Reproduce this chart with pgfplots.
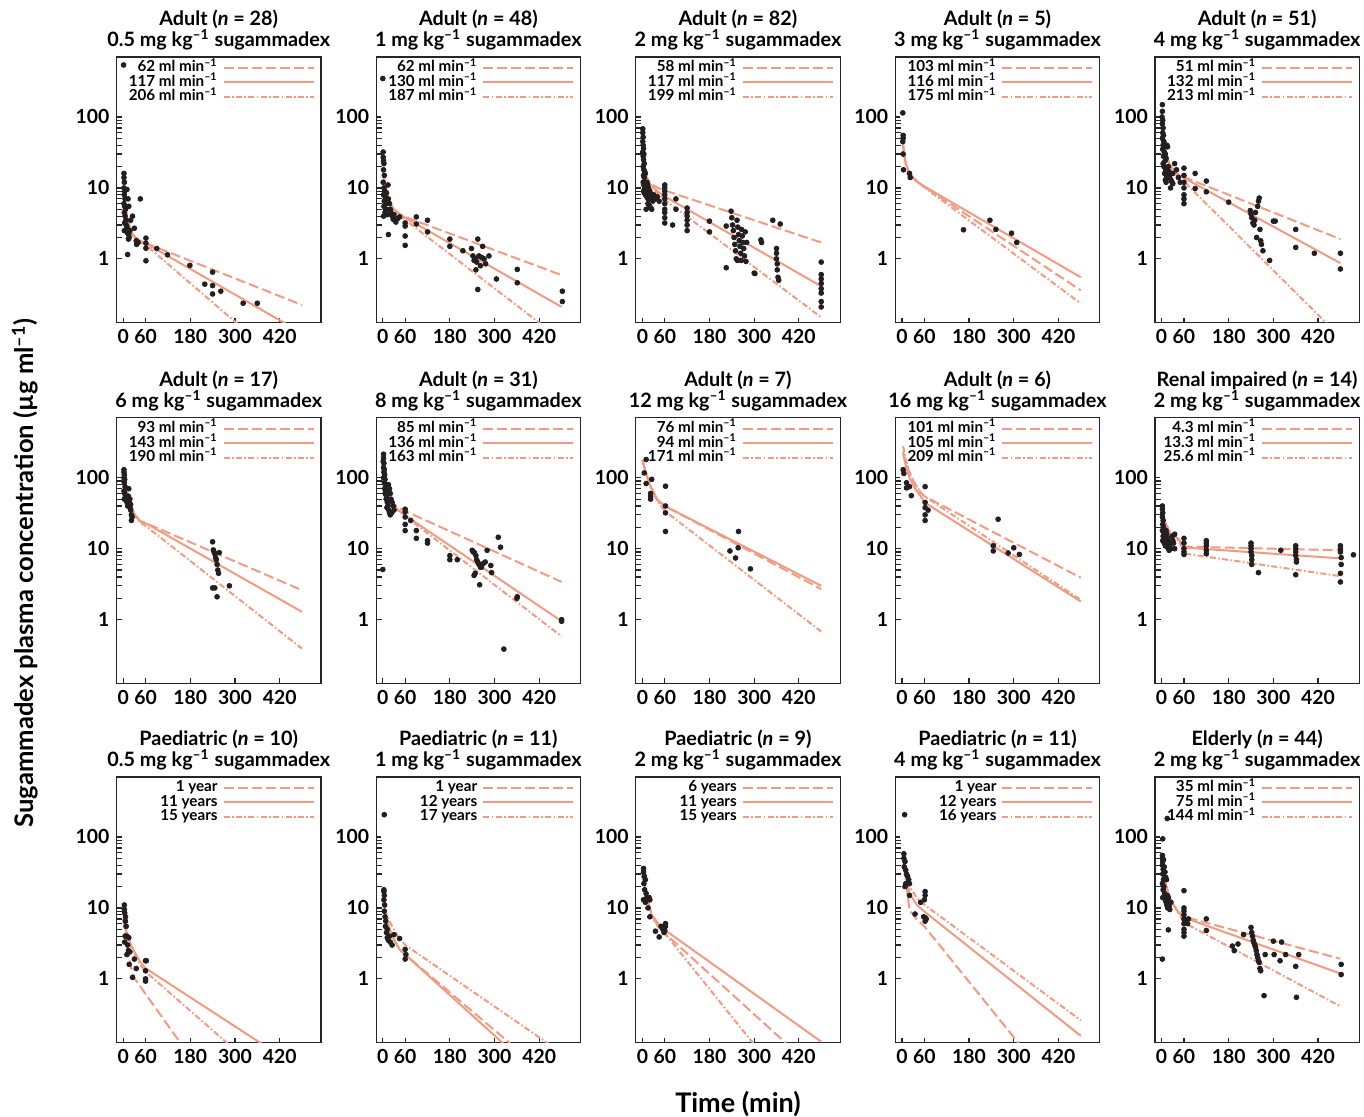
\documentclass[border=0pt]{standalone}
\usepackage{fontspec}
\setmainfont{Lato}
\usepackage{pgfplots}
\pgfplotsset{compat=1.18}
\definecolor{salmon}{RGB}{243,155,130}
\definecolor{dotc}{RGB}{35,31,32}
\newcommand{\mlm}[1]{#1 ml min\textsuperscript{–1}}
\newcommand{\dose}[1]{#1 mg kg\textsuperscript{–1} sugammadex}
\tikzset{
 dsh/.style={salmon, line width=1pt, dash pattern=on 5pt off 2pt},
 sol/.style={salmon, line width=1pt},
 ddt/.style={salmon, line width=1pt, dash pattern=on 3pt off 1.2pt on 0.8pt off 1.2pt},
 dotm/.style={dotc, mark=*, mark size=1.2pt},
}
\newcommand{\AX}[2]{\begin{axis}[/pgfplots/ymode=log,
  scale only axis, width=102.25pt, height=132.85pt,
  ymin=0.126, ymax=700, xmin=-18, xmax=531,
  xtick={0,60,180,300,420}, xticklabels={0,60,180,300,420},
  ytick={1,10,100}, yticklabels={1,10,100},
  minor y tick num=0, tick pos=left, tick align=inside, major tick length=2.5pt,
  tick style={black!85, line width=0.6pt},
  axis line style={line width=0.6pt, black!85},
  tick label style={font=\fontsize{9.7}{10}\selectfont\bfseries},
  legend plot pos=right,
  legend cell align=right,
  legend image code/.code={\draw[##1] (0pt,0pt) -- (45pt,0pt);},
  legend style={at={(1,1)}, anchor=north east, xshift=-3pt, yshift=-1.7pt,
    draw=none, fill=none, inner sep=0pt,
    font=\fontsize{7.6}{7.6}\selectfont\bfseries,
    nodes={inner sep=0pt, text height=5.5pt, text depth=1.5pt},
    row sep=0.25pt, column sep=2.5pt},
  at={(#1pt,#2pt)}, anchor=south west]}
\newcommand{\ttl}[4]{%
 \node[anchor=base,font=\fontsize{9.9}{10}\selectfont\bfseries] at (#1pt,#2pt+15.5pt) {#3};
 \node[anchor=base,font=\fontsize{9.9}{10}\selectfont\bfseries] at (#1pt,#2pt+5.2pt) {#4};}
\begin{document}
\begin{tikzpicture}
\path[use as bounding box] (0,0) rectangle (682pt,558.5pt);
% ---------------- Row 1 ----------------
\AX{58.25}{397.15}
\addplot[only marks, dotm, forget plot] coordinates {(1,540)(2,16)(2,14)(3,12)(2,10)(4,9)(3,8)(5,7)(2,6)(4,5.5)(6,5)(3,4.5)(5,4)(7,3.5)(4,3.2)(8,3)(3,2.5)(10,2.8)(12,2.3)(15,2.2)(14,1.9)(18,2.5)(16,2)(10,9.5)(13,7)(15,5.5)(20,3.5)(25,4)(30,2.7)(35,1.8)(40,1.7)(36,1.6)(12,1.15)(46,7)(61,1.96)(61,1.66)(61,1.41)(61,0.94)(90,1.4)(119,1.14)(179,0.81)(219,0.44)(240,0.65)(240,0.42)(240,0.32)(262,0.35)(322,0.237)(360,0.237)};
\addplot[dsh] coordinates {(0,8)(5,5.4)(10,4)(20,2.5)(30,2.05)(45,1.8)(60,1.67)(480,0.224)};
\addlegendentry{\mlm{62}}
\addplot[sol] coordinates {(0,8)(5,5.4)(10,4)(20,2.5)(30,2.05)(45,1.8)(60,1.66)(480,0.09)};
\addlegendentry{\mlm{117}}
\addplot[ddt] coordinates {(0,8)(5,5.4)(10,4)(20,2.45)(30,2.0)(45,1.72)(60,1.58)(480,0.02)};
\addlegendentry{\mlm{206}}
\end{axis}
\AX{188.05}{397.15}
\addplot[only marks, dotm, forget plot] coordinates {(0,348)(1,32)(1,27)(2,24)(3,22)(2,18)(4,15)(1,12)(3,10)(5,9)(2,8)(6,7.5)(4,6.5)(8,6)(3,5.5)(10,5)(6,4.5)(12,4.2)(2,4)(15,7)(18,6)(20,5)(22,4.5)(25,4)(28,3.6)(14,11)(10,8.5)(7,5)(30,4.2)(35,3.3)(40,3.7)(45,3.9)(15,2.2)(60,2.9)(60,2.1)(60,1.55)(60,3.2)(90,3.9)(90,3.1)(120,3.5)(120,2.4)(180,1.9)(180,1.5)(215,1.3)(238,1.4)(242,1.1)(248,1.0)(252,0.9)(255,1.9)(258,1.1)(262,0.8)(265,1.05)(268,1.5)(272,1.0)(276,0.85)(250,0.7)(255,0.37)(245,0.95)(285,1.1)(305,0.52)(361,0.71)(361,0.46)(482,0.35)(482,0.25)};
\addplot[dsh] coordinates {(0,18)(5,12)(10,8.9)(20,6)(30,5)(45,4.3)(60,3.9)(480,0.59)};
\addlegendentry{\mlm{62}}
\addplot[sol] coordinates {(0,18)(5,12)(10,8.9)(20,6)(30,5)(45,4.3)(60,3.8)(480,0.21)};
\addlegendentry{\mlm{130}}
\addplot[ddt] coordinates {(0,18)(5,12)(10,8.9)(20,5.9)(30,4.9)(45,4.1)(60,3.55)(480,0.072)};
\addlegendentry{\mlm{187}}
\end{axis}
\AX{317.85}{397.15}
\addplot[only marks, dotm, forget plot] coordinates {(1,68)(1,60)(2,52)(1,45)(2,40)(3,36)(1,32)(2,28)(4,30)(3,25)(5,22)(2,20)(4,18)(6,17)(3,15)(5,14)(8,16)(7,12)(2,12)(4,11)(6,10)(9,10.5)(3,9)(5,8.5)(8,8)(10,9)(12,12)(14,11)(16,10)(12,7.5)(15,7)(18,8.5)(20,9)(22,7)(25,8)(10,5)(15,6)(20,5.5)(28,6.5)(30,8)(35,7)(25,5)(40,7.5)(45,6.5)(60,11)(60,10)(60,9)(60,8)(60,7)(60,6)(60,5)(60,4.5)(60,3.8)(60,3.2)(81,3.0)(90,7)(90,5)(120,5.2)(120,4.5)(120,4)(120,3.5)(120,3)(120,2.5)(180,3.4)(180,2.4)(225,0.75)(225,2.9)(238,4.7)(240,3.8)(242,3)(244,2.5)(246,2)(248,1.6)(250,1.3)(252,1)(254,3.5)(256,2.8)(258,2.2)(260,1.8)(262,1.5)(264,1.2)(266,2.6)(268,2.1)(270,1.7)(272,1.4)(274,1.1)(276,2.4)(278,0.92)(255,0.95)(265,0.95)(280,1.7)(300,0.63)(302,0.62)(318,1.85)(320,1.7)(350,3.5)(360,1.4)(360,1.2)(360,1.0)(362,0.85)(362,0.7)(364,0.55)(366,0.5)(370,3.1)(480,0.9)(480,0.6)(480,0.52)(480,0.45)(480,0.38)(480,0.33)(480,0.25)(480,0.21)};
\addplot[dsh] coordinates {(0,25)(10,14.5)(20,12)(30,10.8)(45,9.8)(60,9.2)(480,1.7)};
\addlegendentry{\mlm{58}}
\addplot[sol] coordinates {(0,25)(10,14.5)(20,11.5)(30,10)(45,8.6)(60,7.6)(480,0.41)};
\addlegendentry{\mlm{117}}
\addplot[ddt] coordinates {(0,28)(10,14)(20,11)(30,9.5)(45,8)(60,6.8)(480,0.15)};
\addlegendentry{\mlm{199}}
\end{axis}
\AX{447.65}{397.15}
\addplot[only marks, dotm, forget plot] coordinates {(2,114)(3,55)(3,50)(2,45)(3,30)(4,18)(20,16)(22,14)(165,2.57)(236,3.5)(252,2.6)(294,2.3)(308,1.7)};
\addplot[dsh] coordinates {(2,45)(5,32)(10,22)(20,16)(40,12.3)(60,10.4)(480,0.36)};
\addlegendentry{\mlm{103}}
\addplot[sol] coordinates {(2,45)(5,32)(10,22)(20,16)(40,12.3)(60,10.5)(480,0.55)};
\addlegendentry{\mlm{116}}
\addplot[ddt] coordinates {(2,45)(5,32)(10,22)(20,16)(40,12.2)(60,10.2)(480,0.235)};
\addlegendentry{\mlm{175}}
\end{axis}
\AX{577.45}{397.15}
\addplot[only marks, dotm, forget plot] coordinates {(2,149)(2,120)(1,100)(3,90)(2,80)(4,70)(3,60)(5,55)(2,50)(6,45)(4,40)(8,38)(3,35)(7,32)(10,30)(5,28)(12,26)(9,24)(14,40)(16,38)(4,22)(6,20)(11,18)(8,16)(13,15)(15,14)(10,13)(18,20)(20,17)(22,15)(25,13)(28,12)(30,16)(35,22)(40,18)(45,14)(50,12)(24,10)(12,12)(30,11.5)(60,19)(60,15)(60,12)(60,10)(60,8)(60,7)(60,6)(90,16)(90,9.8)(120,12.5)(120,8.8)(180,6.3)(238,4.8)(240,4.3)(242,3.8)(245,3.2)(248,3.0)(250,3.5)(252,4.5)(255,2.0)(258,5.5)(260,6.5)(262,7.2)(264,2.6)(266,1.8)(268,1.6)(272,1.3)(290,0.95)(300,3.4)(305,3.4)(360,2.6)(360,1.45)(410,1.2)(480,1.2)(480,0.72)};
\addplot[dsh] coordinates {(2,70)(5,48)(10,35)(20,22)(40,16)(60,14.2)(480,1.9)};
\addlegendentry{\mlm{51}}
\addplot[sol] coordinates {(2,70)(5,48)(10,35)(20,22)(40,16)(60,13.8)(480,0.87)};
\addlegendentry{\mlm{132}}
\addplot[ddt] coordinates {(2,70)(5,48)(10,35)(20,21.5)(40,15)(60,12.3)(480,0.079)};
\addlegendentry{\mlm{213}}
\end{axis}
% ---------------- Row 2 ----------------
\AX{58.25}{216.75}
\addplot[only marks, dotm, forget plot] coordinates {(2,130)(2,120)(3,110)(2,100)(4,95)(3,85)(5,75)(2,65)(4,60)(6,55)(3,50)(8,48)(10,45)(12,40)(15,70)(14,55)(16,45)(18,38)(20,35)(22,30)(24,28)(22,25)(18,50)(20,42)(240,12.5)(242,9.6)(244,9)(246,8.5)(248,7.5)(250,7)(252,6)(254,5)(256,4.5)(246,2.8)(240,2.8)(252,2.1)(285,3.0)(258,8.8)};
\addplot[dsh] coordinates {(0,100)(10,62)(20,42)(30,31)(45,24.5)(60,23)(480,2.6)};
\addlegendentry{\mlm{93}}
\addplot[sol] coordinates {(0,100)(10,62)(20,42)(30,31)(45,24.5)(60,22.9)(480,1.29)};
\addlegendentry{\mlm{143}}
\addplot[ddt] coordinates {(0,100)(10,62)(20,41)(30,30)(45,23.5)(60,21)(480,0.39)};
\addlegendentry{\mlm{190}}
\end{axis}
\AX{188.05}{216.75}
\addplot[only marks, dotm, forget plot] coordinates {(2,215)(2,190)(1,170)(3,160)(2,140)(4,130)(3,120)(5,110)(2,100)(6,95)(4,85)(7,80)(5,70)(8,65)(6,60)(10,55)(9,50)(12,45)(14,40)(11,38)(16,35)(18,32)(20,30)(15,80)(18,70)(20,60)(22,50)(25,45)(28,40)(30,35)(24,32)(0,5.1)(60,36)(60,33)(60,28)(60,22)(60,18)(75,25)(90,14)(90,18)(120,12)(120,13)(180,8)(180,7)(200,7)(240,9.5)(243,9)(246,8.8)(250,8)(252,7)(255,6.5)(258,6)(262,5.5)(265,5.5)(248,4.5)(245,4.2)(260,3.1)(270,6.2)(275,6.5)(280,9.5)(290,5.8)(292,4.6)(310,14.5)(316,10.5)(325,0.385)(360,2.0)(361,2.1)(480,1.0)(480,0.95)};
\addplot[dsh] coordinates {(2,120)(5,95)(10,68)(20,49)(40,38)(60,34)(480,3.4)};
\addlegendentry{\mlm{85}}
\addplot[sol] coordinates {(2,120)(5,95)(10,68)(20,49)(40,35.5)(60,29.5)(480,0.95)};
\addlegendentry{\mlm{136}}
\addplot[ddt] coordinates {(2,120)(5,95)(10,68)(20,48)(40,35)(60,28.8)(480,0.58)};
\addlegendentry{\mlm{163}}
\end{axis}
\AX{317.85}{216.75}
\addplot[only marks, dotm, forget plot] coordinates {(10,181)(5,117)(10,83)(25,95)(22,60)(22,55)(22,50)(62,76)(62,40)(62,32)(62,17.5)(235,9.3)(250,7.4)(257,10.3)(258,17.5)(290,5.2)};
\addplot[dsh] coordinates {(0,178)(10,115)(20,79)(40,49)(60,40)(480,2.7)};
\addlegendentry{\mlm{76}}
\addplot[sol] coordinates {(0,178)(10,115)(20,79)(40,49)(60,40)(480,3.0)};
\addlegendentry{\mlm{94}}
\addplot[ddt] coordinates {(0,178)(10,115)(20,79)(40,47)(60,34)(480,0.68)};
\addlegendentry{\mlm{171}}
\end{axis}
\AX{447.65}{216.75}
\addplot[only marks, dotm, forget plot] coordinates {(3,130)(5,115)(12,85)(12,72)(20,75)(25,56)(62,75)(62,45)(62,38)(62,30)(62,25)(70,35)(245,11)(245,9.3)(258,26)(285,8.7)(300,10.3)(315,8.3)};
\addplot[dsh] coordinates {(3,230)(10,165)(20,115)(35,80)(50,62)(60,55)(480,3.9)};
\addlegendentry{\mlm{101}}
\addplot[sol] coordinates {(3,220)(10,150)(20,100)(35,70)(50,55)(60,45)(480,1.8)};
\addlegendentry{\mlm{105}}
\addplot[ddt] coordinates {(3,280)(10,180)(20,120)(35,82)(50,62)(60,55)(480,1.9)};
\addlegendentry{\mlm{209}}
\end{axis}
\AX{577.45}{216.75}
\addplot[only marks, dotm, forget plot] coordinates {(2,40)(2,36)(3,32)(2,28)(4,25)(3,22)(5,20)(2,18)(6,17)(4,15)(8,14)(3,13)(7,12)(10,11)(12,18)(14,16)(16,14)(18,13)(20,12)(22,11)(25,10)(28,15)(30,13)(32,12)(35,10)(15,10.5)(20,9.5)(35,16)(60,14)(60,12)(60,10)(60,9)(60,8.3)(120,13)(120,12)(120,11)(120,9.5)(120,8.5)(240,12)(240,11)(240,10)(240,9)(242,8)(242,7)(242,6)(260,4.6)(320,9.5)(360,11)(360,10)(360,9)(360,8)(362,7)(362,6.5)(360,4.3)(480,11)(480,10)(480,9)(482,7.5)(482,6)(480,4.5)(480,3.4)(515,8.2)};
\addplot[dsh] coordinates {(2,34)(5,29)(10,23)(25,16)(45,13.8)(60,10.7)(480,9.5)};
\addlegendentry{\mlm{4.3}}
\addplot[sol] coordinates {(2,34)(5,29)(10,23)(25,16)(45,13.8)(60,10.4)(480,7.3)};
\addlegendentry{\mlm{13.3}}
\addplot[ddt] coordinates {(2,34)(5,29)(10,23)(25,15.5)(45,13)(65,8.5)(480,4.1)};
\addlegendentry{\mlm{25.6}}
\end{axis}
% ---------------- Row 3 ----------------
\AX{58.25}{37.15}
\addplot[only marks, dotm, forget plot] coordinates {(3,11)(3,9.5)(4,8.5)(6,7.5)(6,6.5)(8,5.5)(5,4)(4,3.3)(10,4)(15,3.8)(12,3)(14,2.5)(10,2.2)(18,2.4)(16,1.6)(30,1.9)(35,1.4)(25,1.05)(60,1.8)(62,1.8)(60,1.3)(60,1.0)(60,0.93)};
\addplot[dsh] coordinates {(0,7)(5,4.6)(10,3.2)(20,1.5)(30,1.02)(200,0.057)};
\addlegendentry{1 year}
\addplot[sol] coordinates {(0,7)(5,5.3)(10,4.4)(20,3.1)(30,2.4)(45,1.76)(60,1.41)(480,0.052)};
\addlegendentry{11 years}
\addplot[ddt] coordinates {(0,7)(5,5.2)(10,4.2)(20,2.9)(30,2.2)(45,1.6)(60,1.26)(480,0.015)};
\addlegendentry{15 years}
\end{axis}
\AX{188.05}{37.15}
\addplot[only marks, dotm, forget plot] coordinates {(4,206)(3,18)(3,17)(4,15)(3,13)(5,11)(4,9)(6,7.5)(8,6.5)(7,5.5)(10,4.5)(12,3.8)(15,3.5)(20,3.3)(25,3)(30,4.2)(45,3.7)(60,2.6)(62,2.2)(60,1.9)(12,5)(18,4)};
\addplot[dsh] coordinates {(0,14)(10,6.8)(25,4.0)(45,2.6)(60,2.2)(400,0.068)};
\addlegendentry{1 year}
\addplot[sol] coordinates {(0,14)(10,6.8)(25,4.0)(45,2.6)(60,2.2)(400,0.053)};
\addlegendentry{12 years}
\addplot[ddt] coordinates {(0,14)(10,8)(25,5.5)(40,4.0)(60,3.0)(480,0.091)};
\addlegendentry{17 years}
\end{axis}
\AX{317.85}{37.15}
\addplot[only marks, dotm, forget plot] coordinates {(3,36)(3,32)(5,28)(8,25)(4,22)(6,18)(10,16)(3,13)(8,12)(12,14)(18,14)(20,13)(15,10)(20,7.5)(35,4.7)(45,3.9)(55,5)(62,6)(62,5.5)(60,4.8)(58,4.5)(50,5.5)};
\addplot[dsh] coordinates {(0,28)(10,16)(25,7.8)(45,5.3)(60,4.4)(480,0.044)};
\addlegendentry{6 years}
\addplot[sol] coordinates {(0,28)(10,16)(25,8)(45,5.8)(60,4.9)(480,0.13)};
\addlegendentry{11 years}
\addplot[ddt] coordinates {(0,28)(10,15.5)(25,7.6)(45,5.2)(60,4.4)(350,0.056)};
\addlegendentry{15 years}
\end{axis}
\AX{447.65}{37.15}
\addplot[only marks, dotm, forget plot] coordinates {(7,206)(5,58)(5,50)(8,45)(6,38)(10,34)(12,30)(15,28)(10,22)(8,20)(18,25)(20,22)(20,15)(35,8.2)(50,12)(60,13)(62,17)(62,15)(58,7.5)(62,7.3)(62,6.5)(65,7)};
\addplot[dsh] coordinates {(2,53)(5,40)(10,25)(20,9.4)(40,6.8)(60,5.5)(350,0.071)};
\addlegendentry{1 year}
\addplot[sol] coordinates {(2,53)(5,45)(10,32)(20,16)(40,11)(60,8.9)(480,0.157)};
\addlegendentry{12 years}
\addplot[ddt] coordinates {(2,53)(5,48)(10,35)(20,20)(40,13.8)(60,11.1)(480,0.26)};
\addlegendentry{16 years}
\end{axis}
\AX{577.45}{37.15}
\addplot[only marks, dotm, forget plot] coordinates {(3,94)(2,1.9)(15,182)(2,55)(2,50)(3,45)(2,40)(4,35)(3,30)(5,25)(2,22)(6,20)(4,18)(8,16)(3,14)(10,13)(12,12)(14,11)(16,10)(18,14)(20,12)(5,48)(7,38)(9,32)(11,27)(13,25)(15,15)(17,12)(19,11)(20,10.5)(18,4.9)(25,12)(22,9.5)(60,17.5)(60,10)(60,9)(60,8)(60,7)(60,6)(60,5)(60,4.5)(60,4)(62,6.5)(70,6)(72,7)(120,7)(120,4.8)(190,2.9)(195,2.5)(205,3.1)(220,4.2)(240,5.3)(242,4.5)(244,4)(246,3.5)(248,3.2)(250,3)(252,2.8)(254,2.5)(256,2.2)(258,2)(260,1.8)(262,1.7)(264,1.4)(266,1.3)(275,0.58)(278,2.2)(300,3.4)(302,2.2)(318,1.8)(322,3.3)(333,2.2)(360,1.5)(362,0.55)(368,2.2)(482,1.6)(482,1.15)};
\addplot[dsh] coordinates {(2,34)(5,28)(10,22)(25,12.6)(45,8.7)(60,7.5)(480,1.92)};
\addlegendentry{\mlm{35}}
\addplot[sol] coordinates {(2,34)(5,28)(10,22)(25,12.6)(45,8.7)(60,7.3)(480,1.19)};
\addlegendentry{\mlm{75}}
\addplot[ddt] coordinates {(2,34)(5,28)(10,22)(25,12.6)(45,8.5)(60,6.2)(480,0.41)};
\addlegendentry{\mlm{144}}
\end{axis}
% ---------------- Titles ----------------
\ttl{109.375}{530}{Adult (\textit{n} = 28)}{\dose{0.5}}
\ttl{239.175}{530}{Adult (\textit{n} = 48)}{\dose{1}}
\ttl{368.975}{530}{Adult (\textit{n} = 82)}{\dose{2}}
\ttl{498.775}{530}{Adult (\textit{n} = 5)}{\dose{3}}
\ttl{628.575}{530}{Adult (\textit{n} = 51)}{\dose{4}}
\ttl{109.375}{349.6}{Adult (\textit{n} = 17)}{\dose{6}}
\ttl{239.175}{349.6}{Adult (\textit{n} = 31)}{\dose{8}}
\ttl{368.975}{349.6}{Adult (\textit{n} = 7)}{\dose{12}}
\ttl{498.775}{349.6}{Adult (\textit{n} = 6)}{\dose{16}}
\ttl{628.575}{349.6}{Renal impaired (\textit{n} = 14)}{\dose{2}}
\ttl{109.375}{170}{Paediatric (\textit{n} = 10)}{\dose{0.5}}
\ttl{239.175}{170}{Paediatric (\textit{n} = 11)}{\dose{1}}
\ttl{368.975}{170}{Paediatric (\textit{n} = 9)}{\dose{2}}
\ttl{498.775}{170}{Paediatric (\textit{n} = 11)}{\dose{4}}
\ttl{628.575}{170}{Elderly (\textit{n} = 44)}{\dose{2}}
% ---------------- Axis labels ----------------
\node[rotate=90, font=\fontsize{12.8}{13}\selectfont\bfseries] at (12.5pt,272pt) {Sugammadex plasma concentration (µg ml\textsuperscript{–1})};
\node[font=\fontsize{13.5}{13.5}\selectfont\bfseries] at (369pt,6.5pt) {Time (min)};
\end{tikzpicture}
\end{document}
